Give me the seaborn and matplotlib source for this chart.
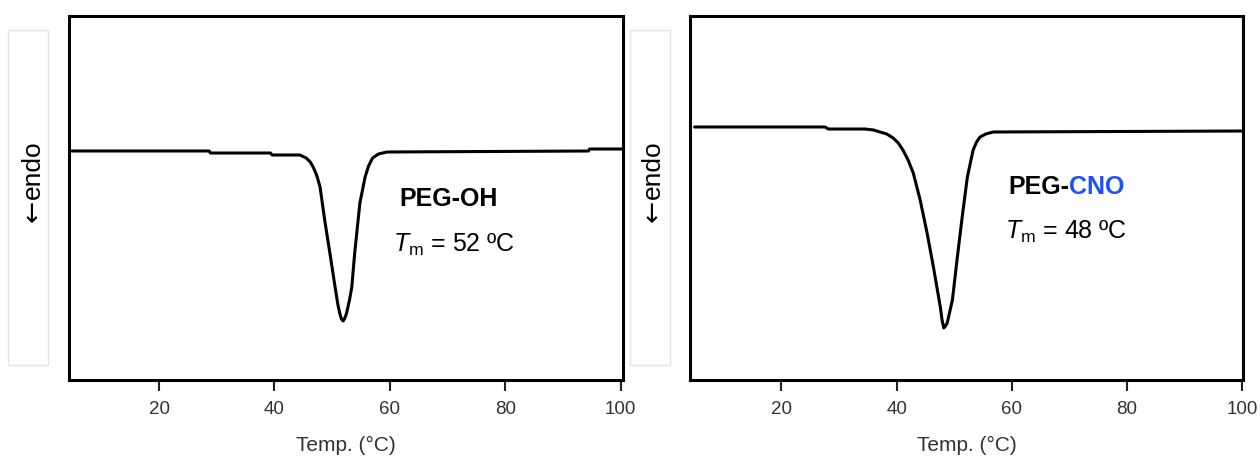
"""
DSC thermograms of PEG-OH and PEG-CNO (endo down).
"""

import matplotlib
matplotlib.use("Agg")
import matplotlib.pyplot as plt
import pandas as pd
import seaborn as sns
from matplotlib.patches import Rectangle

# ---- data (heat flow in arbitrary units) ----
peg_oh_temp = [4.9, 28.7, 28.9, 39.3, 39.6, 44.4, 45.5, 46.2, 46.7, 47.3,
               47.9, 48.7, 49.6, 50.5, 51.0, 51.3, 51.6, 51.9, 52.2, 52.5,
               53.0, 53.4, 53.9, 54.8, 55.7, 56.3, 57.0, 58.0, 59.5, 94.4,
               94.6, 100.2]
peg_oh_heat = [2.29, 2.29, 2.27, 2.27, 2.25, 2.25, 2.22, 2.18, 2.13, 2.05,
               1.93, 1.60, 1.27, 0.93, 0.75, 0.67, 0.61, 0.59, 0.62, 0.67,
               0.80, 0.93, 1.27, 1.77, 2.03, 2.14, 2.22, 2.26, 2.28, 2.29,
               2.31, 2.31]

peg_cno_temp = [4.9, 27.6, 28.1, 34.5, 36.0, 37.1, 38.3, 39.4, 40.3, 41.1,
                42.0, 42.9, 44.1, 45.3, 46.4, 47.6, 47.9, 48.2, 48.5, 48.8,
                49.7, 50.5, 51.4, 52.3, 53.3, 53.9, 54.5, 55.5, 56.8, 100.3]
peg_cno_heat = [2.53, 2.53, 2.51, 2.51, 2.50, 2.48, 2.46, 2.42, 2.37, 2.30,
                2.20, 2.07, 1.80, 1.47, 1.13, 0.73, 0.60, 0.52, 0.54, 0.57,
                0.80, 1.20, 1.63, 2.03, 2.30, 2.38, 2.43, 2.46, 2.48, 2.49]

x_ticks = [20, 40, 60, 80, 100]
tm_values = [52, 48]

sns.set_theme(style="white")
plt.rcParams["font.family"] = ["Liberation Sans", "DejaVu Sans"]
plt.rcParams["mathtext.fontset"] = "custom"
plt.rcParams["mathtext.rm"] = "Liberation Sans"
plt.rcParams["mathtext.it"] = "Liberation Sans:italic"

fig = plt.figure(figsize=(12.6, 4.58), dpi=100)
W, H = 1260, 458


def px_axes(x0, x1, y0, y1):
    return fig.add_axes([x0 / W, 1 - y1 / H, (x1 - x0) / W, (y1 - y0) / H])


ax1 = px_axes(69, 622.5, 16, 380)
ax2 = px_axes(690, 1243, 16, 380)

df_oh = pd.DataFrame({"temp": peg_oh_temp, "heat": peg_oh_heat})
df_cno = pd.DataFrame({"temp": peg_cno_temp, "heat": peg_cno_heat})

for ax, df, xlim in [(ax1, df_oh, (4.4, 100.3)), (ax2, df_cno, (4.1, 100.2))]:
    sns.lineplot(data=df, x="temp", y="heat", estimator=None, sort=False,
                 color="black", linewidth=2.2, ax=ax)
    ax.set_xlim(*xlim)
    ax.set_ylim(0, 3.64)
    ax.set_xticks(x_ticks)
    ax.set_yticks([])
    ax.set_ylabel("")
    ax.set_xlabel("Temp. (°C)", fontsize=15, color="#333333", labelpad=13)
    ax.tick_params(axis="x", direction="out", length=8, width=1.5,
                   color="#222222", labelsize=13.5, labelcolor="#333333",
                   pad=7, bottom=True)
    for side in ["left", "right", "top", "bottom"]:
        ax.spines[side].set_linewidth(2.2)
        ax.spines[side].set_color("black")

# annotations
ann = dict(fontsize=18, color="black", va="center")
ax1.text(61.7, 1.81, "PEG-OH", fontweight="bold", **ann)
ax1.text(60.6, 1.35, r"$\mathit{T}_{\mathrm{m}}$ = %d ºC" % tm_values[0], **ann)

t = ax2.text(59.4, 1.93, "PEG-", fontweight="bold", **ann)
ax2.annotate("CNO", xy=(1, 0), xycoords=t, va="bottom", ha="left",
             fontsize=18, fontweight="bold", color="#1f4fff")
ax2.text(58.8, 1.48, r"$\mathit{T}_{\mathrm{m}}$ = %d ºC" % tm_values[1], **ann)

# "endo" label boxes
for bx, tx in [(8, 33), (630, 653)]:
    fig.patches.append(Rectangle((bx / W, 1 - 365 / H), 40 / W, 335 / H,
                                 transform=fig.transFigure, fill=False,
                                 edgecolor="#e4e4e4", linewidth=1))
    fig.text(tx / W, 1 - 170 / H, "endo", rotation=90, fontsize=19,
             ha="center", va="center", color="black")
    fig.text(tx / W, 1 - 211 / H, "←", rotation=90, fontsize=19,
             family="DejaVu Sans", ha="center", va="center", color="black")

fig.savefig("out.png", dpi=100, facecolor="white")
